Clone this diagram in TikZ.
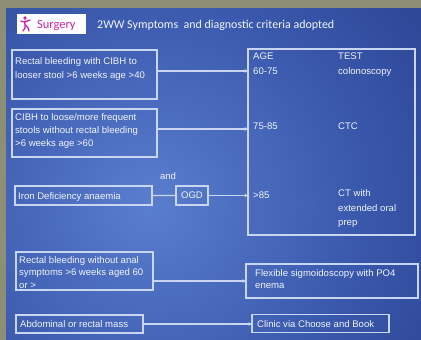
\documentclass[tikz,border=0pt]{standalone}
\usepackage{fontspec}
\setmainfont{Liberation Sans}
\newfontfamily\carl{Carlito}
\usetikzlibrary{arrows.meta,calc}
\definecolor{framec}{HTML}{8C8E76}
\definecolor{bglight}{HTML}{5A7ECE}
\definecolor{bgmid}{HTML}{3A58AC}
\definecolor{bgdark}{HTML}{1A2A72}
\definecolor{linec}{HTML}{C8D6F2}
\definecolor{txtc}{HTML}{F0F4FC}
\definecolor{magc}{HTML}{CC22AA}
\pgfdeclareradialshading{slidebg}{\pgfpoint{0bp}{0bp}}{color(0bp)=(bglight); color(14.5bp)=(bgmid); color(38bp)=(bgdark); color(50bp)=(bgdark)}
\begin{document}
\begin{tikzpicture}[x=1bp,y=-1bp,
  box/.style={draw=linec, line width=1.1bp, inner sep=0pt, outer sep=0pt, anchor=north west},
  txt/.style={text=txtc, font=\fontsize{9.6}{13.5}\selectfont, align=left, inner sep=0pt, anchor=base west},
  conn/.style={draw=linec, line width=1.1bp},
  arr/.style={conn, -{Stealth[length=3.5bp,width=3.5bp]}}]
\useasboundingbox (0,0) rectangle (421,340);
\fill[framec] (0,0) rectangle (421,340);
\begin{scope}
\clip (6,8) rectangle (421,340);
\shade[shading=slidebg] (150,205) circle[radius=360];
\end{scope}
% header
\node[box, draw=none, fill=white, minimum width=69bp, minimum height=20bp] (surg) at (17,14) {};
\fill[magc] (25,18) circle[radius=1.8];
\draw[magc, line width=1.3bp, line cap=round] (21,21) .. controls (24,23) and (27,21) .. (30,20);
\draw[magc, line width=1.3bp, line cap=round] (25,21) .. controls (24,25) and (27,27) .. (23,31);
\draw[magc, line width=1.3bp, line cap=round] (25.5,25) .. controls (28,27) and (29,29) .. (29,31);
\node[anchor=base west, inner sep=0pt, text=magc, font=\carl\fontsize{12.5}{14}\selectfont] (surgt) at (37,28.5) {Surgery};
\node[anchor=base west, inner sep=0pt, text=txtc, font=\carl\fontsize{12}{14}\selectfont] (title) at (97,28) {2WW Symptoms\ \ and diagnostic criteria adopted};
% left boxes (multi-line text nodes: base = baseline of last line)
\node[box, minimum width=145bp, minimum height=49bp] (b1) at (12,50) {};
\node[txt] (t1) at (15,78) {Rectal bleeding with CIBH to\\looser stool >6 weeks age >40};
\node[box, minimum width=145bp, minimum height=48bp] (b2) at (12,109) {};
\node[txt, font=\fontsize{9.6}{13}\selectfont] (t2) at (15,146.5) {CIBH to loose/more frequent\\stools without rectal bleeding\\>6 weeks age >60};
\node[box, minimum width=137bp, minimum height=19bp] (iron) at (15,186) {};
\node[txt] (t3) at (18,199) {Iron Deficiency anaemia};
\node[box, minimum width=32bp, minimum height=19bp, anchor=center, text=txtc, font=\fontsize{9.6}{12}\selectfont] (ogd) at (192,195.5) {OGD};
\node[txt, anchor=base] (and) at (168,179) {and};
\node[box, minimum width=137bp, minimum height=38bp] (b4) at (16,252) {};
\node[txt, font=\fontsize{9.6}{12.2}\selectfont] (t4) at (19,288) {Rectal bleeding without anal\\symptoms >6 weeks aged 60\\or >};
\node[box, minimum width=127bp, minimum height=18bp] (b5) at (16,315) {};
\node[txt] (t5) at (20,327.5) {Abdominal or rectal mass};
% right boxes
\node[box, minimum width=167bp, minimum height=186bp] (big) at (248,49) {};
\node[txt] (age) at (253,59.5) {AGE};
\node[txt] (test) at (338,59.5) {TEST};
\node[txt] (r1) at (253,74.5) {60-75};
\node[txt] (c1) at (338,74) {colonoscopy};
\node[txt] (r2) at (253,129.5) {75-85};
\node[txt] (c2) at (338,129.5) {CTC};
\node[txt] (r3) at (253,198.5) {>85};
\node[txt, font=\fontsize{9.6}{14.5}\selectfont] (c3) at (338,225.5) {CT with\\extended oral\\prep};
\node[box, minimum width=172bp, minimum height=34bp] (flex) at (246,264) {};
\node[txt, font=\fontsize{9.6}{11.5}\selectfont] (t6) at (255,288) {Flexible sigmoidoscopy with PO4\\enema};
\node[box, minimum width=137bp, minimum height=18bp] (clinic) at (252,314.5) {};
\node[txt] (t7) at (257,327.5) {Clinic via Choose and Book};
% connectors
\coordinate (y1) at (0,71);
\coordinate (y2) at (0,129);
\coordinate (y4) at (0,281);
\draw[arr] (b1.east |- y1) -- (big.west |- y1);
\draw[arr] (b2.east |- y2) -- (big.west |- y2);
\draw[conn] (iron.east) -- (ogd.west);
\draw[arr] (ogd.east) -- (big.west |- ogd.east);
\draw[arr] (b4.east |- y4) -- (flex.west |- y4);
\draw[arr] (b5.east) -- (clinic.west |- b5.east);
\end{tikzpicture}
\end{document}
